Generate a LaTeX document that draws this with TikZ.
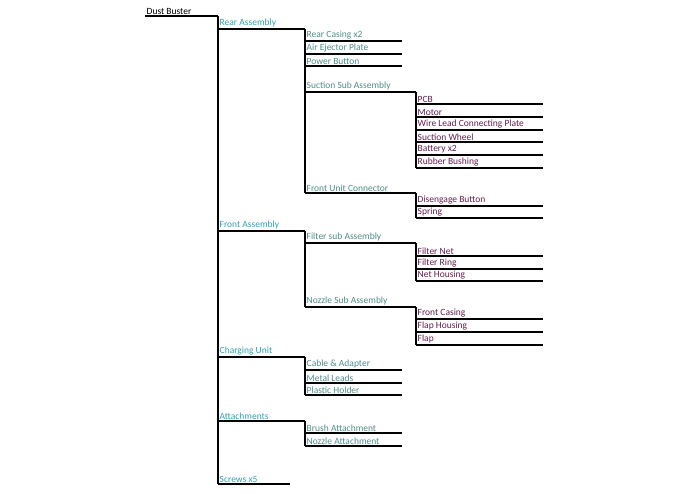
\documentclass[tikz,border=0pt]{standalone}
\usepackage{fontspec}
\setmainfont{Carlito}
\usetikzlibrary{positioning}

\definecolor{lvlone}{RGB}{49,160,178}
\definecolor{lvltwo}{RGB}{80,140,140}
\definecolor{lvlthree}{RGB}{100,30,80}

\begin{document}
\begin{tikzpicture}[x=1pt,y=-1pt,
itemlabel/.style={anchor=south west, inner sep=1.5pt, font=\fontsize{9.5}{11}\selectfont},
treeline/.style={draw=black, line width=1.1pt}
]
\useasboundingbox (0,0) rectangle (695,494);

%Items: name/start x/end x/y/text/colour
\foreach \n/\xa/\xb/\y/\txt/\col in {%
      db/145/218/16/{Dust Buster}/black,
      ra/218/305/29/{Rear Assembly}/lvlone,
      rc/305/402/41/{Rear Casing x2}/lvltwo,
      ae/305/402/54/{Air Ejector Plate}/lvltwo,
      pb/305/402/66/{Power Button}/lvltwo,
      ss/305/416/92/{Suction Sub Assembly}/lvltwo,
      pcb/416/543/104/{PCB}/lvlthree,
      mo/416/543/117/{Motor}/lvlthree,
      wl/416/543/130/{Wire Lead Connecting Plate}/lvlthree,
      sw/416/543/142/{Suction Wheel}/lvlthree,
      bt/416/543/155/{Battery x2}/lvlthree,
      rb/416/543/168/{Rubber Bushing}/lvlthree,
      fu/305/416/193/{Front Unit Connector}/lvltwo,
      dg/416/543/206/{Disengage Button}/lvlthree,
      sp/416/543/218/{Spring}/lvlthree,
      fa/218/305/231/{Front Assembly}/lvlone,
      fs/305/416/243/{Filter sub Assembly}/lvltwo,
      fn/416/543/256/{Filter Net}/lvlthree,
      fr/416/543/269/{Filter Ring}/lvlthree,
      nh/416/543/281/{Net Housing}/lvlthree,
      ns/305/416/307/{Nozzle Sub Assembly}/lvltwo,
      fc/416/543/319/{Front Casing}/lvlthree,
      fh/416/543/332/{Flap Housing}/lvlthree,
      fl/416/543/345/{Flap}/lvlthree,
      cu/218/305/357/{Charging Unit}/lvlone,
      ca/305/402/370/{Cable \& Adapter}/lvltwo,
      ml/305/402/383/{Metal Leads}/lvltwo,
      ph/305/402/395/{Plastic Holder}/lvltwo,
      at/218/305/421/{Attachments}/lvlone,
      ba/305/402/433/{Brush Attachment}/lvltwo,
      na/305/402/446/{Nozzle Attachment}/lvltwo,
      sc/218/290/484/{Screws x5}/lvlone}
{
  \coordinate (\n s) at (\xa,\y);
  \coordinate (\n e) at (\xb,\y);
  \node[itemlabel, text=\col] (\n) at (\n s) {\txt};
  \draw[treeline] (\n s) -- (\n e);
}

%Branches: parent/last child
\foreach \p/\c in {db/sc, ra/fu, ss/rb, fu/sp, fa/ns, fs/nh, ns/fl, cu/ph, at/na}
  \draw[treeline] (\p e) -- (\c s);
\end{tikzpicture}
\end{document}
